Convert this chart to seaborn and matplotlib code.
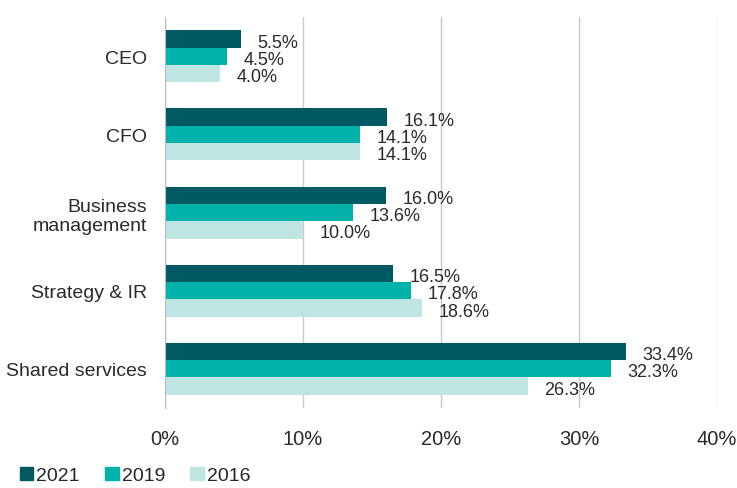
import pandas as pd
import seaborn as sns
import matplotlib.pyplot as plt

roles = ['CEO', 'CFO', 'Business\nmanagement', 'Strategy & IR', 'Shared services']
years = ['2021', '2019', '2016']
share_2021 = [5.5, 16.1, 16.0, 16.5, 33.4]
share_2019 = [4.5, 14.1, 13.6, 17.8, 32.3]
share_2016 = [4.0, 14.1, 10.0, 18.6, 26.3]

data = pd.DataFrame({
    'role': roles * 3,
    'year': [y for y in years for _ in roles],
    'share': share_2021 + share_2019 + share_2016,
})

color_mapping = {'2021': '#005A64', '2019': '#00B2A9', '2016': '#BFE5E2'}

sns.set_style('white')
plt.rcParams['font.family'] = ['Liberation Sans', 'DejaVu Sans']
text_color = '#2A2A2A'

fig = plt.figure(figsize=(7.37, 4.89), dpi=100)
ax = fig.add_axes([0.224, 0.164, 0.749, 0.7986])

sns.barplot(data=data, y='role', x='share', hue='year', palette=color_mapping,
            orient='h', width=0.665, ax=ax, legend=False, saturation=1, linewidth=0)

# value labels just right of each bar
for cont in ax.containers:
    for bar in cont:
        w = bar.get_width()
        ax.text(w + 1.2, bar.get_y() + bar.get_height() / 2 + 0.04, f'{w:.1f}%',
                va='center', ha='left', fontsize=13, color=text_color)

ax.set_xlim(0, 40)
ax.set_ylim(4.5, -0.5)
ax.set_xticks([0, 10, 20, 30, 40])
ax.set_xticklabels(['0%', '10%', '20%', '30%', '40%'], fontsize=14.5, color=text_color)
ax.tick_params(axis='x', length=0, pad=15)
ax.tick_params(axis='y', length=0, pad=13, labelsize=14, labelcolor=text_color)
ax.set_yticks([-0.5, 0.5, 1.5, 2.5, 3.5, 4.5], minor=True)
ax.tick_params(axis='y', which='minor', length=5, color='#BBBBBB', width=1)
ax.set_xlabel('')
ax.set_ylabel('')
ax.grid(axis='x', color='#C8C8C8', linewidth=1)
ax.set_axisbelow(True)
for s in ['top', 'right', 'bottom']:
    ax.spines[s].set_visible(False)
ax.spines['left'].set_color('#BBBBBB')

handles = [plt.Rectangle((0, 0), 1, 1, color=color_mapping[y]) for y in years]
fig.legend(handles, years, loc='lower left', bbox_to_anchor=(0.003, -0.028), ncol=3,
           frameon=False, fontsize=14, handlelength=0.7, handleheight=0.7,
           handletextpad=0.15, columnspacing=1.3)

plt.savefig('out.png', dpi=100)
